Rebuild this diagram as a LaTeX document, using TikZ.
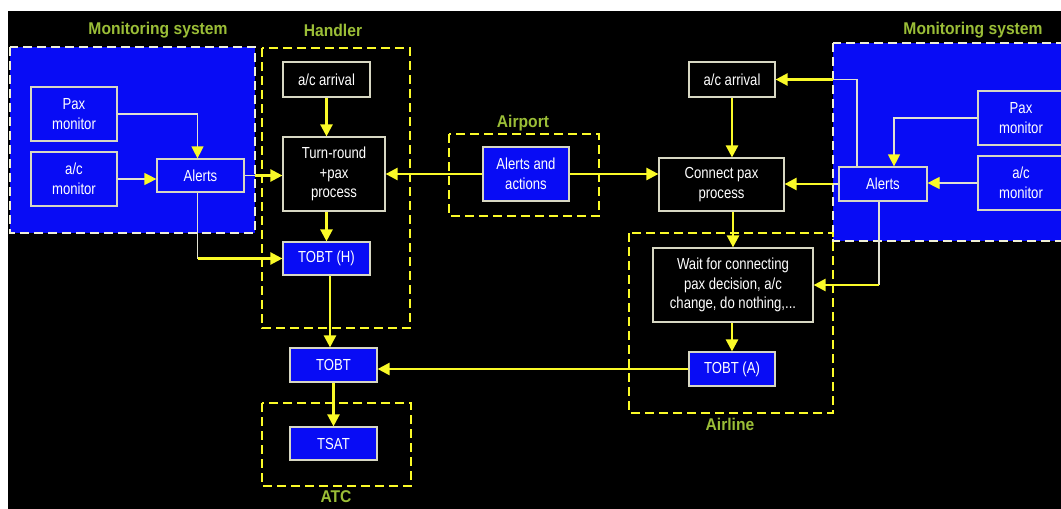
\documentclass[tikz,border=0pt]{standalone}
\usepackage{fontspec}
\setmainfont{Liberation Sans}[FakeStretch=0.82]
\newfontfamily\titlefont{Liberation Sans}[FakeStretch=0.92]
\usetikzlibrary{arrows.meta}
\definecolor{myblue}{RGB}{8,12,245}
\definecolor{myyellow}{RGB}{250,250,40}
\definecolor{titlegreen}{RGB}{155,190,55}
\definecolor{nodeline}{RGB}{215,215,195}
\definecolor{wlinec}{RGB}{225,225,210}
\definecolor{wdashc}{RGB}{240,240,215}
\begin{document}
\begin{tikzpicture}[x=1pt,y=-1pt,
  box/.style={draw=nodeline, line width=1.2pt, text=white, align=center, inner sep=0pt, font=\fontsize{16}{19.5}\selectfont},
  bbox/.style={box, fill=myblue},
  kbox/.style={box, fill=black},
  ydash/.style={draw=myyellow, line width=2.8pt, dash pattern=on 9pt off 5pt},
  wdash/.style={draw=wdashc, line width=2.8pt, dash pattern=on 9pt off 5pt},
  ttl/.style={text=titlegreen, inner sep=0pt, font=\titlefont\bfseries\fontsize{17}{19}\selectfont},
  ytip/.tip={Triangle[length=12pt,width=12pt,color=myyellow]},
  yarr/.style={draw=myyellow, line width=2.5pt, -ytip},
  warr/.style={draw=wlinec, line width=1.2pt, -ytip},
  wln/.style={draw=wlinec, line width=1.2pt},
]
\useasboundingbox (0,0) rectangle (1061,509);
\clip (0,0) rectangle (1061,509);
\fill[white] (0,0) rectangle (1061,509);
\fill[black] (8,11) rectangle (1061,509);

% region boxes
\fill[myblue] (10,47) rectangle (255,233);
\draw[wdash] (10,47) rectangle (255,233);
\fill[myblue] (833,43) rectangle (1080,241);
\draw[wdash] (833,43) rectangle (1080,241);
\draw[ydash] (262,48) rectangle (410,328);
\draw[ydash] (262,403) rectangle (411,486);
\draw[ydash] (449,134) rectangle (599,216);
\draw[ydash] (629,233) rectangle (833,413);

\coordinate (lmonE) at (255,0);
\coordinate (rmonW) at (833,0);

% titles
\node[ttl] (t1) at (158,30) {Monitoring system};
\node[ttl] (t2) at (333,30) {Handler};
\node[ttl] (t3) at (523,123) {Airport};
\node[ttl] (t4) at (973,30) {Monitoring system};
\node[ttl] (t5) at (336,497) {ATC};
\node[ttl] (t6) at (730,424) {Airline};

% left monitoring
\node[bbox, minimum width=86pt, minimum height=54pt] (lpax) at (74,114) {Pax\\monitor};
\node[bbox, minimum width=86pt, minimum height=54pt] (lacm) at (74,179) {a/c\\monitor};
\node[bbox, minimum width=87pt, minimum height=33pt] (lalerts) at (200.5,175.5) {Alerts};

% handler
\node[kbox, minimum width=87pt, minimum height=35pt] (larr) at (326.5,79.5) {a/c arrival};
\node[kbox, minimum width=102pt, minimum height=74pt] (turn) at (334,174) {Turn-round\\+pax\\process};
\node[bbox, minimum width=87pt, minimum height=33pt] (tobth) at (326.5,258.5) {TOBT (H)};
\node[bbox, minimum width=87pt, minimum height=34pt] (tobt) at (333.5,365) {TOBT};
\node[bbox, minimum width=87pt, minimum height=33pt] (tsat) at (333.5,443.5) {TSAT};

% airport
\node[bbox, minimum width=86pt, minimum height=54pt] (aa) at (526,174) {Alerts and\\actions};

% airline side
\node[kbox, minimum width=86pt, minimum height=35pt] (rarr) at (732,79.5) {a/c arrival};
\node[kbox, minimum width=125pt, minimum height=53pt] (conn) at (721.5,184.5) {Connect pax\\process};
\node[kbox, minimum width=160pt, minimum height=74pt] (wait) at (733,285) {Wait for connecting\\pax decision, a/c\\change, do nothing,...};
\node[bbox, minimum width=86pt, minimum height=34pt] (tobta) at (732,369) {TOBT (A)};

% right monitoring
\node[bbox, minimum width=86pt, minimum height=54pt] (rpax) at (1021,118) {Pax\\monitor};
\node[bbox, minimum width=86pt, minimum height=54pt] (racm) at (1021,183) {a/c\\monitor};
\node[bbox, minimum width=88pt, minimum height=34pt] (ralerts) at (883,184) {Alerts};

% left connectors
\draw[warr] (lpax.east) -| ([xshift=-3pt]lalerts.north);
\draw[warr] (lacm.east) -- (lalerts.west |- lacm.east);
\draw[wln] (lalerts.east) -- (lalerts.east -| lmonE);
\draw[yarr] (lalerts.east -| lmonE) -- (turn.west |- lalerts.east);
\draw[wln] ([xshift=-3pt]lalerts.south) -- ([xshift=-3pt]lalerts.south |- tobth.west);
\draw[yarr] ([xshift=-3pt]lalerts.south |- tobth.west) -- (tobth.west);

% handler connectors
\draw[yarr] (larr.south) -- (larr.south |- turn.north);
\draw[yarr] (turn.south -| tobth.north) -- (tobth.north);
\draw[yarr] ([xshift=3.5pt]tobth.south) -- ([xshift=3.5pt]tobth.south |- tobt.north);
\draw[yarr] (tobt.south) -- (tsat.north);

% airport connectors
\draw[yarr] (aa.west) -- (turn.east |- aa.west);
\draw[yarr] (aa.east) -- (conn.west |- aa.east);

% airline connectors
\draw[yarr] (rarr.south) -- (rarr.south |- conn.north);
\draw[yarr] (wait.north |- conn.south) -- (wait.north);
\draw[yarr] (wait.south -| tobta.north) -- (tobta.north);
\draw[yarr] (tobta.west) -- (tobt.east |- tobta.west);

% right connectors
\draw[warr] (rpax.west) -| ([xshift=11pt]ralerts.north);
\draw[warr] (racm.west) -- (ralerts.east |- racm.west);
\draw[wln] (ralerts.west) -- (ralerts.west -| rmonW);
\draw[yarr] (ralerts.west -| rmonW) -- (conn.east |- ralerts.west);
\draw[wln] ([xshift=-26pt]ralerts.north) |- (rarr.east -| rmonW);
\draw[yarr] (rarr.east -| rmonW) -- (rarr.east);
\draw[wln] ([xshift=-4pt]ralerts.south) -- ([xshift=-4pt]ralerts.south |- wait.east);
\draw[yarr] ([xshift=-4pt]ralerts.south |- wait.east) -- (wait.east);
\end{tikzpicture}
\end{document}
